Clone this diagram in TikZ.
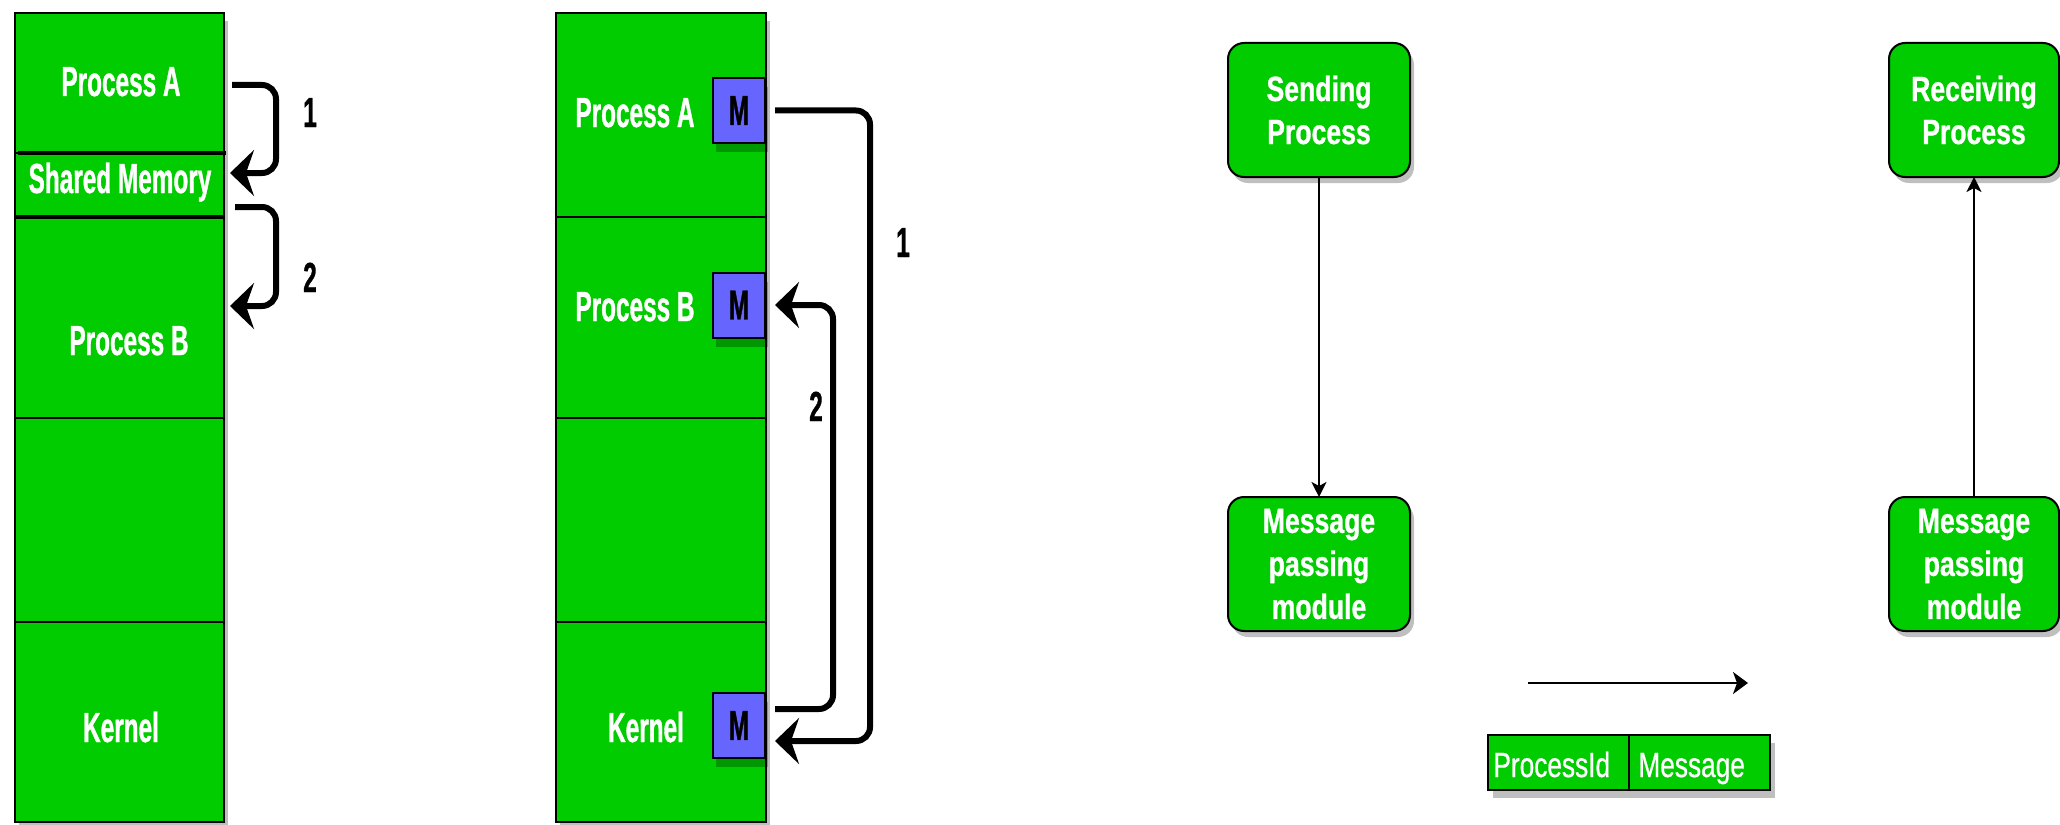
\documentclass[tikz,border=0pt]{standalone}
\usepackage{fontspec}
\usetikzlibrary{arrows.meta,shadows}
\newfontfamily\nbf[FakeStretch=0.58,FakeBold=0.8]{Liberation Sans Bold}
\newfontfamily\mbf[FakeStretch=0.76,FakeBold=0.8]{Liberation Sans Bold}
\newfontfamily\mrf[FakeStretch=0.75,FakeBold=0.6]{Liberation Sans}
\definecolor{gr}{HTML}{00CC00}
\definecolor{mb}{HTML}{6666FF}
\tikzset{
  cell/.style={draw=black, line width=1pt, fill=gr, anchor=north west, inner sep=0pt, outer sep=0pt},
  shade25/.style={fill=black, opacity=0.25},
  lbl/.style={text=white, font=\nbf\fontsize{21}{25}\selectfont, text height=15pt, text depth=0pt, inner sep=0pt},
  num/.style={text=black, font=\nbf\fontsize{21}{25}\selectfont, text height=15pt, text depth=0pt, inner sep=0pt},
  mbox/.style={draw=black, line width=1pt, fill=mb, minimum width=26pt, minimum height=32.5pt, inner sep=0pt, outer sep=0pt,
    text=black, font=\nbf\fontsize{21}{25}\selectfont,
    drop shadow={shadow xshift=1.5pt, shadow yshift=-4.5pt, fill=black, opacity=0.25}},
  fat/.style={line width=3pt, rounded corners=7pt, -{Stealth[length=12pt, width=23pt, inset=4pt]}},
  thinarr/.style={line width=1pt, -{Stealth[length=7.5pt, width=7.5pt, inset=2pt]}},
  rbox/.style={draw=black, line width=1pt, fill=gr, rounded corners=8pt, minimum height=67pt, inner sep=0pt, outer sep=0pt,
    align=center, text=white, font=\mbf\fontsize{17.5}{21.5}\selectfont,
    drop shadow={shadow xshift=2pt, shadow yshift=-3pt, fill=black, opacity=0.25}},
  tcell/.style={draw=black, line width=1pt, fill=gr, minimum height=27.5pt, minimum width=70.5pt, inner sep=0pt, outer sep=0pt, anchor=north west},
  ttxt/.style={text=white, font=\mrf\fontsize{17.5}{20}\selectfont, inner sep=0pt, anchor=west, text height=12.5pt, text depth=0pt}
}
\begin{document}
\begin{tikzpicture}[x=0.5pt, y=-0.5pt]
\useasboundingbox (0,0) rectangle (2060,824);
\clip (0,0) rectangle (2060,824);
\fill[white] (0,0) rectangle (2060,824);

% ---------- column 1 (shared memory) ----------
\fill[shade25] (19,21) rectangle (228,830);
\node[cell, minimum width=104.5pt, minimum height=70pt] (pa1) at (15,13) {};
\node[cell, minimum width=104.5pt, minimum height=32pt] (shm) at (15,153) {};
\node[cell, minimum width=104.5pt, minimum height=100.5pt] (pb1) at (15,217) {};
\node[cell, minimum width=104.5pt, minimum height=102pt] (e1) at (15,418) {};
\node[cell, minimum width=104.5pt, minimum height=100pt] (k1) at (15,622) {};
\draw[line width=2pt] (18,153) -- (226,153);
\draw[line width=2pt] (15,217) -- (224,217);

\node[lbl] (tpa1) at (121,81) {Process A};
\node[lbl] (tshm) at (120,178) {Shared Memory};
\node[lbl] (tpb1) at (129,340) {Process B};
\node[lbl] (tk1) at (121,727) {Kernel};

\draw[fat] ([shift={(8,2)}]pa1.east) -- ++(44,0) |- ([shift={(6,-12)}]shm.east);
\draw[fat] ([shift={(11,22)}]shm.east) -- ++(41,0) |- ([shift={(6,-11.5)}]pb1.east);
\node[num] (n11) at (310,112) {1};
\node[num] (n12) at (310,277) {2};

% ---------- column 2 (message passing) ----------
\fill[shade25] (560,21) rectangle (770,830);
\node[cell, minimum width=105pt, minimum height=102pt] (pa2) at (556,13) {};
\node[cell, minimum width=105pt, minimum height=100.5pt] (pb2) at (556,217) {};
\node[cell, minimum width=105pt, minimum height=102pt] (e2) at (556,418) {};
\node[cell, minimum width=105pt, minimum height=100pt] (k2) at (556,622) {};

\node[lbl] (tpa2) at (635,112) {Process A};
\node[lbl] (tpb2) at (635,306) {Process B};
\node[lbl] (tk2) at (646,727) {Kernel};

\node[mbox] (mA) at (739,110.5) {M};
\node[mbox] (mB) at (739,305) {M};
\node[mbox] (mK) at (739,725.5) {M};

\draw[fat] ([shift={(10,0)}]mA.east) -- ++(95,0) |- ([shift={(10,15.5)}]mK.east);
\draw[fat] ([shift={(10,-16.5)}]mK.east) -- ++(58,0) |- ([shift={(10,0)}]mB.east);
\node[num] (n21) at (903,242) {1};
\node[num] (n22) at (816,406) {2};

% ---------- right part ----------
\node[rbox, minimum width=91pt] (send) at (1319,110) {Sending\\Process};
\node[rbox, minimum width=91pt] (mpm1) at (1319,564) {Message\\passing\\module};
\node[rbox, minimum width=85pt] (recv) at (1974,110) {Receiving\\Process};
\node[rbox, minimum width=85pt] (mpm2) at (1974,564) {Message\\passing\\module};

\draw[thinarr] (send.south) -- (mpm1.north);
\draw[thinarr] (mpm2.north) -- (recv.south);

\coordinate (h1) at (1528,683);
\coordinate (h2) at (1748,683);
\draw[line width=1pt, -{Stealth[length=7.5pt, width=11pt, inset=2pt]}] (h1) -- (h2);

\fill[shade25] (1493,743) rectangle (1775,798);
\node[tcell] (pid) at (1488,735) {};
\node[tcell] (msg) at (1629,735) {};
\node[ttxt] (tpid) at (1493,764.5) {ProcessId};
\node[ttxt] (tmsg) at (1638,764.5) {Message};
\end{tikzpicture}
\end{document}
